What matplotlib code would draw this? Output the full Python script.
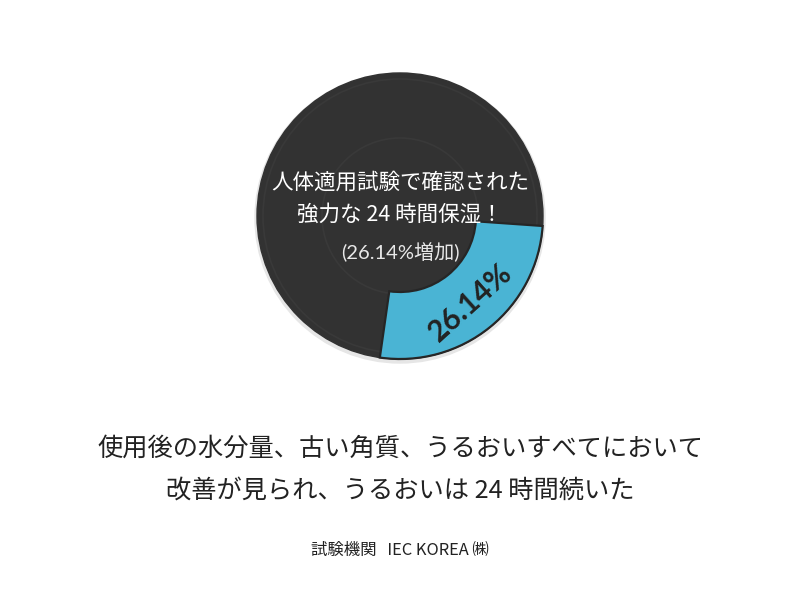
import numpy as np
import matplotlib
matplotlib.use('Agg')
import matplotlib.pyplot as plt
from matplotlib.patches import Circle

plt.rcParams['font.family'] = ['Noto Sans CJK JP', 'DejaVu Sans']

# data
share = [26.14, 100 - 26.14]
share_label = '26.14%'
inner_title = ['人体適用試験で確認された', '強力な 24 時間保湿！']
inner_note = '(26.14%増加)'
caption = ['使用後の水分量、古い角質、うるおいすべてにおいて',
           '改善が見られ、うるおいは 24 時間続いた']
source = '試験機関   IEC KOREA ㈱'

dark = '#323232'
blue = '#4ab4d4'

W, H = 800, 604
fig = plt.figure(figsize=(8, 6.04), dpi=100)
ax = fig.add_axes([0, 0, 1, 1])
ax.set_xlim(0, W)
ax.set_ylim(0, H)
ax.axis('off')

cx, cy = 400, H - 216
r_out, r_in = 143, 76

# soft shadow + dark disc
ax.add_patch(Circle((cx, cy - 2), r_out + 2, color='#e6e6e6', zorder=0))
ax.add_patch(Circle((cx, cy), r_out, color=dark, zorder=1))
# faint record-like grooves
for rr in [r_out - 6, r_in + 2]:
    ax.add_patch(Circle((cx, cy), rr, fill=False, ec='#393939', lw=1.2, zorder=2))

start = -4
wedges, _ = ax.pie(share, colors=[blue, 'none'], startangle=start, counterclock=False,
                   radius=r_out, center=(cx, cy),
                   wedgeprops=dict(width=r_out - r_in, edgecolor='#262626', linewidth=1.6))
wedges[1].set_visible(False)
for w in wedges:
    w.set_zorder(3)
ax.set_xlim(0, W)
ax.set_ylim(0, H)
ax.set_aspect('auto')

mid = np.deg2rad(start - share[0] * 3.6 / 2)
rm = (r_out + r_in) / 2 + 2
ax.text(cx + rm * np.cos(mid), cy + rm * np.sin(mid), share_label,
        rotation=np.rad2deg(mid) + 93, ha='center', va='center',
        fontsize=21.5, fontweight='bold', color='#222222', family=['Lato', 'DejaVu Sans'],
        rotation_mode='anchor', zorder=5)

ax.text(cx, H - 183, inner_title[0], ha='center', va='center', fontsize=15.5,
        color='white', zorder=5)
ax.text(cx, H - 215, inner_title[1], ha='center', va='center', fontsize=15.5,
        color='white', zorder=5)
ax.text(cx, H - 252, inner_note, ha='center', va='center', fontsize=14.5,
        color='#e8e8e8', family=['Lato', 'Noto Sans CJK JP'], zorder=5)

ax.text(W / 2, H - 449, caption[0], ha='center', va='center', fontsize=18.2, color='#222222')
ax.text(W / 2, H - 491, caption[1], ha='center', va='center', fontsize=18.2, color='#222222')
ax.text(W / 2, H - 550, source, ha='center', va='center', fontsize=11.8, color='#222222')

fig.savefig('out.png', dpi=100, facecolor='white')
